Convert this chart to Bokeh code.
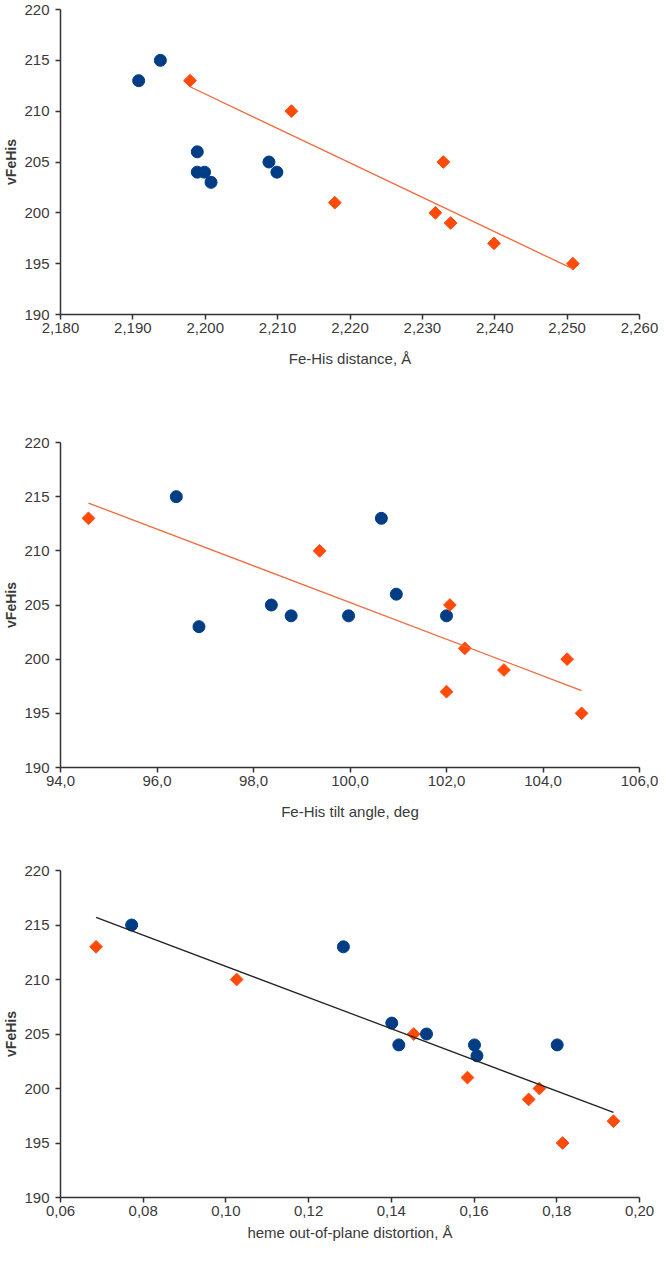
import numpy as np
from bokeh.plotting import figure
from bokeh.layouts import column
from bokeh.models import Range1d, FixedTicker, CustomJSTickFormatter
from bokeh.embed import file_html
from bokeh.resources import INLINE

FONT = "Liberation Sans"

# ---- shared y axis ----
y_ticks = [190, 195, 200, 205, 210, 215, 220]
y_label = "vFeHis"

# ---- panel 1: Fe-His distance ----
dist_blue_x = [2.1908, 2.1938, 2.1989, 2.1989, 2.1999, 2.2008, 2.2088, 2.2099]
dist_blue_y = [213, 215, 206, 204, 204, 203, 205, 204]
dist_orange_x = [2.1979, 2.2119, 2.2179, 2.2318, 2.2329, 2.2339, 2.2399, 2.2508]
dist_orange_y = [213, 210, 201, 200, 205, 199, 197, 195]
dist_ticks = [2.18, 2.19, 2.20, 2.21, 2.22, 2.23, 2.24, 2.25, 2.26]
dist_label = "Fe-His distance, Å"

# ---- panel 2: Fe-His tilt angle ----
tilt_blue_x = [96.4, 96.87, 98.37, 98.78, 99.97, 100.65, 100.96, 102.0]
tilt_blue_y = [215, 203, 205, 204, 204, 213, 206, 204]
tilt_orange_x = [94.58, 99.37, 102.07, 102.0, 102.38, 103.19, 104.5, 104.8]
tilt_orange_y = [213, 210, 205, 197, 201, 199, 200, 195]
tilt_ticks = [94, 96, 98, 100, 102, 104, 106]
tilt_label = "Fe-His tilt angle, deg"

# ---- panel 3: heme out-of-plane distortion ----
oop_blue_x = [0.0772, 0.1284, 0.1401, 0.1418, 0.1485, 0.1601, 0.1607, 0.1801]
oop_blue_y = [215, 213, 206, 204, 205, 204, 203, 204]
oop_orange_x = [0.0686, 0.1026, 0.1454, 0.1584, 0.1732, 0.1758, 0.1814, 0.1937]
oop_orange_y = [213, 210, 205, 201, 199, 200, 195, 197]
oop_ticks = [0.06, 0.08, 0.10, 0.12, 0.14, 0.16, 0.18, 0.20]
oop_label = "heme out-of-plane distortion, Å"

BLUE = "#003d85"
ORANGE = "#ff4a0a"
ORANGE_LINE = "#f06a3c"
AXIS = "#333333"
TXT = "#3a3a3a"


def make_fig(height, b_top, b_bottom, ticks, decimals, xlabel, title_standoff):
    p = figure(width=658, height=height,
               x_range=Range1d(ticks[0], ticks[-1]), y_range=Range1d(190, 220),
               output_backend="svg", toolbar_location=None,
               min_border_left=57, min_border_right=19,
               min_border_top=b_top, min_border_bottom=b_bottom)
    p.outline_line_color = None
    p.grid.visible = False
    p.background_fill_color = "white"
    p.border_fill_color = "white"
    for ax in (p.xaxis[0], p.yaxis[0]):
        ax.axis_line_color = AXIS
        ax.axis_line_width = 1.5
        ax.major_tick_line_color = AXIS
        ax.major_tick_line_width = 1.5
        ax.major_tick_in = 0
        ax.major_tick_out = 5
        ax.minor_tick_line_color = None
        ax.major_label_text_font = FONT
        ax.major_label_text_font_size = "15px"
        ax.major_label_text_color = TXT
        ax.axis_label_text_font = FONT
        ax.axis_label_text_color = TXT
    p.xaxis.ticker = FixedTicker(ticks=ticks)
    p.xaxis.formatter = CustomJSTickFormatter(
        code="return tick.toFixed(%d).replace('.', ',');" % decimals)
    p.xaxis.major_label_standoff = 3
    p.xaxis.axis_label = xlabel
    p.xaxis.axis_label_text_font_size = "15px"
    p.xaxis.axis_label_text_font_style = "normal"
    p.xaxis.axis_label_standoff = title_standoff
    p.yaxis.ticker = FixedTicker(ticks=y_ticks)
    p.yaxis.major_label_standoff = 6
    p.yaxis.axis_label = y_label
    p.yaxis.axis_label_text_font_size = "14px"
    p.yaxis.axis_label_text_font_style = "bold"
    p.yaxis.axis_label_standoff = 2
    return p


def add_points(p, bx, by, ox, oy):
    p.scatter(bx, by, marker="circle", size=12, fill_color=BLUE, line_color=BLUE)
    p.scatter(ox, oy, marker="square", size=9, angle=np.pi / 4,
              fill_color=ORANGE, line_color=ORANGE)


def add_trend(p, xs, ys, color, width):
    k, b = np.polyfit(xs, ys, 1)
    x0, x1 = min(xs), max(xs)
    p.line([x0, x1], [k * x0 + b, k * x1 + b], line_color=color, line_width=width)


p1 = make_fig(432, 9, 118, dist_ticks, 3, dist_label, 14)
add_points(p1, dist_blue_x, dist_blue_y, dist_orange_x, dist_orange_y)
add_trend(p1, dist_orange_x, dist_orange_y, ORANGE_LINE, 1.3)

p2 = make_fig(428, 10, 93, tilt_ticks, 1, tilt_label, 14)
add_points(p2, tilt_blue_x, tilt_blue_y, tilt_orange_x, tilt_orange_y)
add_trend(p2, tilt_orange_x, tilt_orange_y, ORANGE_LINE, 1.3)

p3 = make_fig(386, 10, 49, oop_ticks, 2, oop_label, 5)
add_points(p3, oop_blue_x, oop_blue_y, oop_orange_x, oop_orange_y)
add_trend(p3, oop_blue_x + oop_orange_x, oop_blue_y + oop_orange_y, "#222222", 1.3)

layout = column(p1, p2, p3, spacing=0)

open("out.html", "w").write(file_html(layout, INLINE))
